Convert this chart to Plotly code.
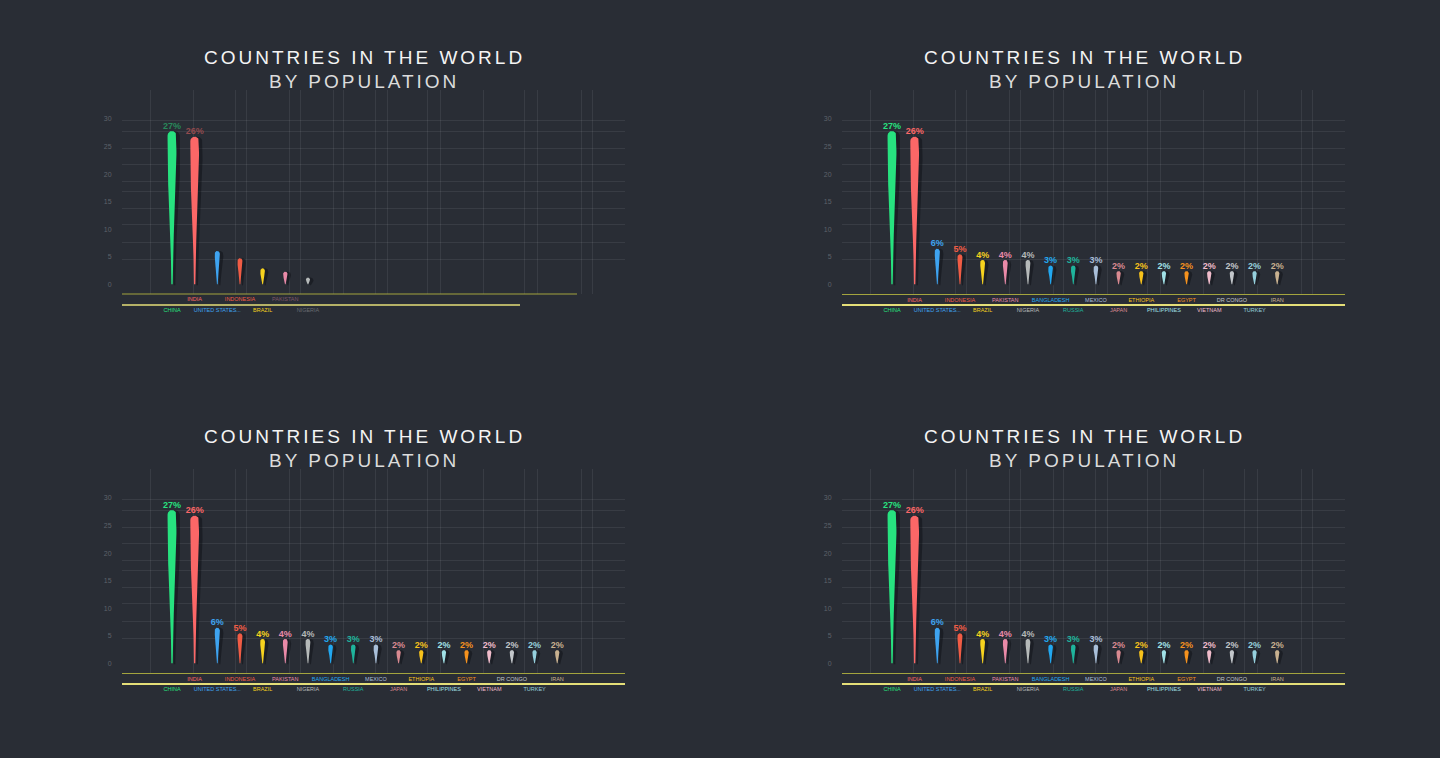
import numpy as np
import plotly.graph_objects as go

# ---------------- data ----------------
countries = ["CHINA", "INDIA", "UNITED STATES...", "INDONESIA", "BRAZIL", "PAKISTAN",
             "NIGERIA", "BANGLADESH", "RUSSIA", "MEXICO", "JAPAN", "ETHIOPIA",
             "PHILIPPINES", "EGYPT", "VIETNAM", "DR CONGO", "TURKEY", "IRAN"]
share_pct = [27, 26, 6, 5, 4, 4, 4, 3, 3, 3, 2, 2, 2, 2, 2, 2, 2, 2]
share_labels = ["27%", "26%", "6%", "5%", "4%", "4%", "4%", "3%", "3%", "3%",
                "2%", "2%", "2%", "2%", "2%", "2%", "2%", "2%"]
# first panel: an animation frame where only the first seven bars have grown
frame_pct = [27, 26, 5.6, 4.3, 2.5, 1.9, 0.85]
y_tick_vals = [0, 5, 10, 15, 20, 25, 30]

colors = ["#27e27f", "#fb6767", "#3ea3f0", "#f05c45", "#f6d21e", "#e98aa8",
          "#b6baba", "#22a8f0", "#1fb49c", "#a9bfd9", "#d98a91", "#f7c21b",
          "#a0e0e6", "#f5921e", "#f0bccb", "#c2c6ca", "#95cfdc", "#c8b190"]

# ---------------- style ----------------
BG = "#292d35"
GRID = "rgba(255,255,255,0.075)"
OLIVE, YELLOW = "#a3a43e", "#e4de78"
W, H = 1440, 758
PX_L, PX_R = 122, 625            # plot area (left panel), pixels
PX_T, PX_B = 90, 294
PX_ROW2 = 305
Y0_PX, KY = 284.3, 5.51          # pixel of value 0, px per unit
X_FIRST_PX, KX = 172, 22.66      # pixel of first category, px per category
Y_RANGE = [-(PX_B - Y0_PX) / KY, (Y0_PX - PX_T) / KY]
X_RANGE = [-(X_FIRST_PX - PX_L) / KX, -(X_FIRST_PX - PX_L) / KX + (PX_R - PX_L) / KX]
H_GRID = [4.5, 7.5, 10.8, 13.8, 16.8, 18.6, 21.7, 24.7, 27.8, 29.8]
V_GRID_PX = [28, 71, 113, 124, 167, 178, 211, 221, 253, 265, 305, 318, 361, 402, 415, 459, 470]
V_GRID = [X_RANGE[0] + g / KX for g in V_GRID_PX]
FONT = "Liberation Sans, Arial, sans-serif"


def mix(hexc, other, t):
    a = [int(hexc[i:i + 2], 16) for i in (1, 3, 5)]
    b = [int(other[i:i + 2], 16) for i in (1, 3, 5)]
    c = [round(a[k] * (1 - t) + b[k] * t) for k in range(3)]
    return "#%02x%02x%02x" % tuple(c)


def drop(xc, v, hw, dx=0.0, dy=0.0):
    ts = np.linspace(0, 1, 40)
    prof = hw * (0.15 + 0.85 * np.clip(ts / 0.75, 0, 1) ** 1.5)
    ys = ts * v + dy / KY
    ang = np.linspace(0, np.pi, 24)
    xs = np.concatenate([xc + (prof + dx) / KX,
                         xc + (hw * np.cos(ang) + dx) / KX,
                         xc + (-prof[::-1] + dx) / KX])
    yy = np.concatenate([ys, v + hw * np.sin(ang) / KY + dy / KY, ys[::-1]])
    return [float(t) for t in xs], [float(t) for t in yy]


panels = [
    dict(ox=0, oy=0, values=frame_pct, full=False),
    dict(ox=720, oy=0, values=share_pct, full=True),
    dict(ox=0, oy=379, values=share_pct, full=True),
    dict(ox=720, oy=379, values=share_pct, full=True),
]

fig = go.Figure()
layout = {}
annotations = []
shapes = []


def xp(px):
    return px / W


def yp(py):
    return 1 - py / H


def colored(name, c, op=1.0):
    col = c if op >= 1 else mix(c, BG, 1 - op)
    return '<span style="color:%s">%s</span>' % (col, name)


def key(a):
    n = a[1:]
    return ("xaxis" if a[0] == "x" else "yaxis") + ("" if n == "1" else n)


def dummy(xa_, ya_):
    fig.add_trace(go.Scatter(x=[None], y=[None], xaxis=xa_, yaxis=ya_, mode="markers",
                             showlegend=False, hoverinfo="skip"))


for p, pan in enumerate(panels):
    ox, oy = pan["ox"], pan["oy"]
    b = 3 * p + 1
    c = 2 * p + 1
    xb, xa, xl = ["x%d" % (b + k) for k in range(3)]
    yb, yl = "y%d" % c, "y%d" % (c + 1)

    dom_x = [xp(PX_L + ox), xp(PX_R + ox)]
    dom_y = [yp(PX_B + oy), yp(PX_T + oy)]
    layout[key(xb)] = dict(domain=dom_x, range=X_RANGE, anchor=yb, showgrid=True,
                           gridcolor=GRID, tickvals=V_GRID, ticks="",
                           zeroline=False, showticklabels=False, showline=False)
    layout[key(yb)] = dict(domain=dom_y, range=Y_RANGE, anchor=xb, showgrid=True,
                           gridcolor=GRID, gridwidth=1, tickvals=H_GRID, showticklabels=False,
                           zeroline=False, showline=False, ticks="")
    layout[key(yl)] = dict(overlaying=yb, anchor=xb, range=Y_RANGE, side="left",
                           tickvals=y_tick_vals, ticktext=[str(v) for v in y_tick_vals],
                           showgrid=False, zeroline=False, showline=False, ticks="outside",
                           ticklen=8, tickcolor="rgba(0,0,0,0)",
                           tickfont=dict(size=7, color="#5d6169", family=FONT))

    vals = pan["values"]
    n = len(vals)
    full = pan["full"]
    idx_a = [i for i in range(n) if i % 2 == 1]
    idx_b = [i for i in range(n) if i % 2 == 0]
    ops = [1.0] * n if full else [0.45 if i >= 5 else 1.0 for i in range(n)]
    layout[key(xa)] = dict(overlaying=xb, anchor="free", position=yp(PX_B + oy),
                           range=X_RANGE, showline=full, linecolor=OLIVE, linewidth=1,
                           tickvals=idx_a,
                           ticktext=[colored(countries[i], colors[i], ops[i]) for i in idx_a],
                           ticks="", showgrid=False, zeroline=False,
                           tickfont=dict(size=5.5, family=FONT))
    layout[key(xl)] = dict(overlaying=xb, anchor="free", position=yp(PX_ROW2 + oy),
                           range=X_RANGE, showline=full, linecolor=YELLOW, linewidth=1.5,
                           tickvals=idx_b,
                           ticktext=[colored(countries[i], colors[i], ops[i]) for i in idx_b],
                           ticks="", showgrid=False, zeroline=False,
                           tickfont=dict(size=5.5, family=FONT))
    if not full:
        # axis lines still growing in the animation frame
        shapes.append(dict(type="line", xref="paper", yref="paper",
                           x0=xp(PX_L + ox), x1=xp(577 + ox), y0=yp(PX_B + oy), y1=yp(PX_B + oy),
                           line=dict(color=OLIVE, width=1)))
        shapes.append(dict(type="line", xref="paper", yref="paper",
                           x0=xp(PX_L + ox), x1=xp(520 + ox), y0=yp(PX_ROW2 + oy),
                           y1=yp(PX_ROW2 + oy), line=dict(color=YELLOW, width=1.5)))

    dummy(xb, yl)
    dummy(xa, yb)
    dummy(xl, yb)

    # shadows
    sx, sy = [], []
    for i, v in enumerate(vals):
        hw = 2 + 0.09 * v
        px_, py_ = drop(i, v, hw + 1.0, dx=2.5, dy=-1.0)
        sx += px_ + [None]
        sy += py_ + [None]
    fig.add_trace(go.Scatter(x=sx, y=sy, fill="toself", fillcolor="rgba(12,14,18,0.45)",
                             mode="lines", line=dict(width=0), xaxis=xb, yaxis=yb,
                             showlegend=False, hoverinfo="skip"))
    # drops
    for i, v in enumerate(vals):
        hw = 2 + 0.09 * v
        dx_, dy_ = drop(i, v, hw)
        fig.add_trace(go.Scatter(
            x=dx_, y=dy_, fill="toself", fillcolor=colors[i], mode="lines",
            line=dict(width=0, color=colors[i]), xaxis=xb, yaxis=yb, showlegend=False,
            hoverinfo="skip"))
    # value labels
    if full:
        lab_idx = list(range(n))
        lab_cols = colors[:n]
    else:
        lab_idx = [0, 1]
        lab_cols = [mix(colors[i], BG, 0.5) for i in lab_idx]
    fig.add_trace(go.Scatter(
        x=lab_idx, y=[vals[i] + (2 + 0.09 * vals[i]) / KY for i in lab_idx],
        mode="text", text=[share_labels[i] for i in lab_idx], textposition="top center",
        textfont=dict(size=9, color=lab_cols, family=FONT),
        texttemplate="<b>%{text}</b>",
        xaxis=xb, yaxis=yb, showlegend=False, hoverinfo="skip"))

    # title
    cx = xp(364 + ox)
    annotations.append(dict(xref="paper", yref="paper", x=cx, y=yp(57 + oy),
                            text='<span style="letter-spacing:3px">COUNTRIES IN THE WORLD</span>',
                            showarrow=False, xanchor="center", yanchor="middle",
                            font=dict(size=19, color="#f4f4f4", family=FONT)))
    annotations.append(dict(xref="paper", yref="paper", x=cx, y=yp(81 + oy),
                            text='<span style="letter-spacing:3px">BY POPULATION</span>',
                            showarrow=False, xanchor="center", yanchor="middle",
                            font=dict(size=19, color="#dcdcdc", family=FONT)))

fig.update_layout(width=W, height=H, margin=dict(l=0, r=0, t=0, b=0),
                  paper_bgcolor=BG, plot_bgcolor=BG, showlegend=False,
                  annotations=annotations, shapes=shapes, **layout)
fig.write_html("out.html", config={"displayModeBar": False},
               post_script="document.body.style.margin='0';document.body.style.background='%s';" % BG)
